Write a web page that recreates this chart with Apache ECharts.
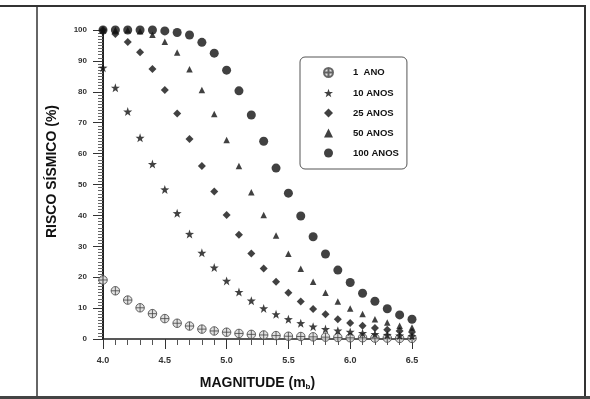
<!DOCTYPE html>
<html>
<head>
<meta charset="utf-8">
<script src="https://cdn.jsdelivr.net/npm/echarts@6/dist/echarts.min.js"></script>
<style>html,body{margin:0;padding:0;background:#fff}#c{width:590px;height:399px}</style>
</head>
<body>
<div id="c"></div>
<script>
const magnitudes = [4.0,4.1,4.2,4.3,4.4,4.5,4.6,4.7,4.8,4.9,5.0,5.1,5.2,5.3,5.4,5.5,5.6,5.7,5.8,5.9,6.0,6.1,6.2,6.3,6.4,6.5];
const ano1   = [19.1,15.6,12.6,10.1,8.2,6.6,5.1,4.2,3.2,2.6,2.2,1.8,1.5,1.3,1.1,0.9,0.8,0.7,0.6,0.5,0.4,0.4,0.3,0.3,0.2,0.2];
const anos10 = [87.8,81.3,73.6,65.1,56.6,48.4,40.7,34.0,27.9,23.1,18.8,15.2,12.4,9.9,8.0,6.4,5.1,4.0,3.2,2.7,2.3,1.9,1.6,1.3,1.1,0.9];
const anos25 = [100,98.7,96.1,92.8,87.4,80.6,73.0,64.7,56.0,47.7,40.1,33.7,27.7,22.8,18.5,15.0,12.1,9.7,8.0,6.4,5.2,4.3,3.6,3.0,2.6,2.3];
const anos50 = [100,100,100,99.6,98.5,96.2,92.7,87.3,80.6,72.8,64.4,56.0,47.5,40.1,33.5,27.6,22.7,18.5,15.0,12.1,9.9,8.1,6.4,5.3,4.3,3.7];
const anos100= [100,100,100,100,100,99.7,99.2,98.4,96.0,92.5,87.0,80.3,72.5,64.0,55.3,47.2,39.8,33.1,27.5,22.3,18.3,14.8,12.2,9.8,7.8,6.4];
const seriesNames = ['1  ANO','10 ANOS','25 ANOS','50 ANOS','100 ANOS'];
const xTickLabels = ['4.0','4.5','5.0','5.5','6.0','6.5'];
const yTickLabels = ['0','10','20','30','40','50','60','70','80','90','100'];

const pair = arr => magnitudes.map((m, i) => [m, arr[i]]);
const starPath = 'path://M0,-10L2.351,-3.236L9.511,-3.09L3.804,1.236L5.878,8.09L0,4L-5.878,8.09L-3.804,1.236L-9.511,-3.09L-2.351,-3.236Z';
const crossCircle = 'path://M0,-10A10,10,0,1,1,0,10A10,10,0,1,1,0,-10ZM-10,0L10,0M0,-10L0,10';
const ink = '#111';

const chart = echarts.init(document.getElementById('c'), null, {renderer: 'canvas'});
chart.setOption({
  backgroundColor: '#fff',
  animation: false,
  grid: {left: 103, right: 178, top: 30, bottom: 60},
  legend: {
    orient: 'vertical', left: 300, top: 57,
    padding: [10, 8, 11, 23],
    itemGap: 10, itemWidth: 9, itemHeight: 9,
    borderColor: '#555', borderWidth: 1, borderRadius: 5,
    textStyle: {fontSize: 9.5, fontWeight: 'bold', color: ink, fontFamily: 'Liberation Sans', padding: [0,0,0,15]},
    data: seriesNames
  },
  xAxis: {
    type: 'value', min: 4.0, max: 6.5, interval: 0.5,
    name: 'MAGNITUDE (m{b|b})', nameLocation: 'middle', nameGap: 36,
    nameTextStyle: {fontSize: 14, fontWeight: 'bold', color: ink, fontFamily: 'Liberation Sans',
      rich: {b: {fontSize: 8, fontWeight: 'bold', color: ink, padding: [8,0,0,0], fontFamily: 'Liberation Sans'}}},
    axisLine: {lineStyle: {color: '#222', width: 1.5}},
    axisTick: {length: 10, lineStyle: {color: '#333', width: 1}},
    minorTick: {show: true, splitNumber: 5, length: 6, lineStyle: {color: '#555', width: 1}},
    axisLabel: {margin: 17, fontSize: 9, fontWeight: 'bold', color: '#333', fontFamily: 'Liberation Sans',
      formatter: v => xTickLabels.find(t => Math.abs(+t - v) < 1e-6) || ''},
    splitLine: {show: false}
  },
  yAxis: {
    type: 'value', min: 0, max: 100, interval: 10,
    name: 'RISCO SÍSMICO (%)', nameLocation: 'middle', nameGap: 44, nameRotate: 90,
    nameTextStyle: {fontSize: 14, fontWeight: 'bold', color: ink, fontFamily: 'Liberation Sans', padding: [0,0,0,26]},
    axisLine: {show: true, lineStyle: {color: '#222', width: 2}},
    axisTick: {show: true, length: 10, lineStyle: {color: '#333', width: 1}},
    minorTick: {show: true, splitNumber: 10, length: 5, lineStyle: {color: '#666', width: 1}},
    axisLabel: {margin: 16, fontSize: 8, fontWeight: 'bold', color: '#333', fontFamily: 'Liberation Sans',
      formatter: v => yTickLabels.find(t => Math.abs(+t - v) < 1e-6) || ''},
    splitLine: {show: false}
  },
  graphic: [
    {type: 'line', shape: {x1: 0, y1: 6, x2: 586, y2: 6}, style: {stroke: '#333', lineWidth: 2}},
    {type: 'line', shape: {x1: 37, y1: 6, x2: 37, y2: 399}, style: {stroke: '#333', lineWidth: 1.5}},
    {type: 'line', shape: {x1: 585, y1: 5, x2: 585, y2: 399}, style: {stroke: '#333', lineWidth: 2}},
    {type: 'line', shape: {x1: 0, y1: 397.5, x2: 590, y2: 397.5}, style: {stroke: '#444', lineWidth: 3}}
  ],
  series: [
    {name: seriesNames[0], type: 'scatter', clip: false, data: pair(ano1), symbol: crossCircle, symbolSize: 8.5,
      itemStyle: {color: '#d8d8d8', borderColor: '#444', borderWidth: 1}, z: 2},
    {name: seriesNames[1], type: 'scatter', clip: false, data: pair(anos10), symbol: starPath, symbolSize: 9,
      itemStyle: {color: ink}, z: 3},
    {name: seriesNames[2], type: 'scatter', clip: false, data: pair(anos25), symbol: 'diamond', symbolSize: [8, 8],
      itemStyle: {color: ink}, z: 4},
    {name: seriesNames[3], type: 'scatter', clip: false, data: pair(anos50), symbol: 'triangle', symbolSize: 6.5,
      itemStyle: {color: ink}, z: 5},
    {name: seriesNames[4], type: 'scatter', clip: false, data: pair(anos100), symbol: 'circle', symbolSize: 9,
      itemStyle: {color: ink}, z: 6}
  ]
});
</script>
</body>
</html>
